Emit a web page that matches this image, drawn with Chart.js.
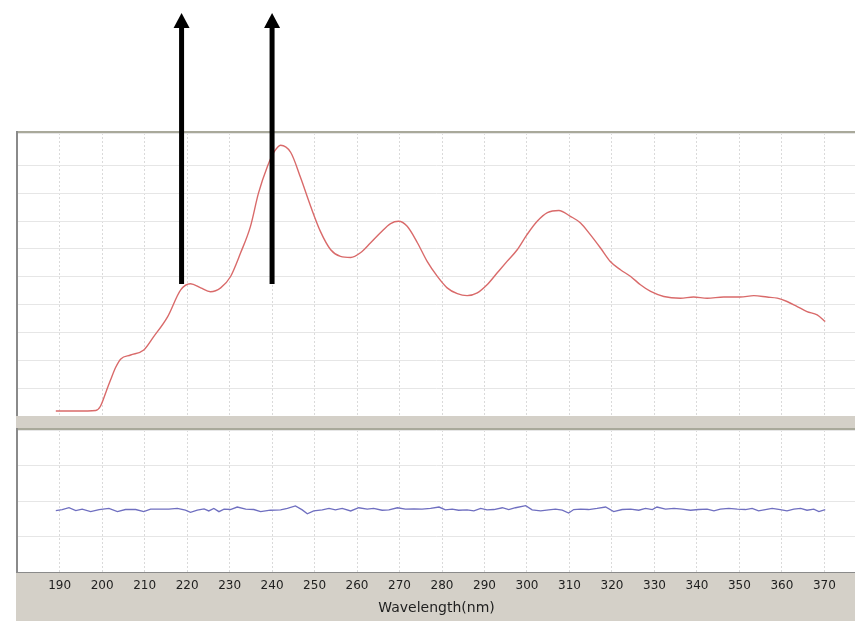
<!DOCTYPE html>
<html>
<head>
<meta charset="utf-8">
<script src="https://cdn.jsdelivr.net/npm/chart.js@4.4.0/dist/chart.umd.min.js"></script>
<style>
  html, body { margin: 0; padding: 0; background: #fff; width: 855px; height: 621px; overflow: hidden; }
  .band { position: absolute; left: 16px; top: 416px; width: 839px; height: 205px; background: #d4d0c8; }
  #topBox { position: absolute; left: 0; top: 0; width: 855px; height: 416px; }
  #botBox { position: absolute; left: 0; top: 428px; width: 855px; height: 193px; }
</style>
</head>
<body>
<div class="band"></div>
<div id="topBox"><canvas id="specChart"></canvas></div>
<div id="botBox"><canvas id="residChart"></canvas></div>
<script>
// spectrum (top panel)
const specWl = [189.1, 194.0, 198.5, 199.6, 201.0, 202.0, 203.2, 204.4, 206.7, 209.8, 212.1, 215.4, 218.5, 220.8,
  223.2, 225.5, 227.9, 230.2, 232.6, 234.9, 236.8, 238.9, 240.4, 242.0, 244.4, 246.7, 249.1, 251.4, 253.8,
  256.1, 258.5, 260.8, 263.2, 265.5, 267.9, 269.8, 271.8, 274.2, 276.5, 278.9, 281.2, 283.6, 285.9, 288.3,
  290.6, 293.0, 295.3, 297.7, 300.0, 302.4, 304.8, 307.5, 310.2, 312.6, 314.9, 317.3, 319.6, 322.0, 324.4,
  326.7, 329.1, 332.2, 336.1, 339.2, 342.4, 346.3, 350.2, 353.4, 356.5, 358.9, 361.2, 363.6, 365.9, 368.3, 370.2];
const specAbs = [0.018, 0.018, 0.020, 0.035, 0.09, 0.13, 0.175, 0.205, 0.219, 0.237, 0.284, 0.356, 0.453, 0.475,
  0.46, 0.446, 0.46, 0.50, 0.586, 0.68, 0.80, 0.896, 0.946, 0.972, 0.946, 0.856, 0.752, 0.662, 0.597,
  0.573, 0.569, 0.586, 0.622, 0.658, 0.691, 0.699, 0.681, 0.622, 0.555, 0.501, 0.46, 0.439, 0.432, 0.442,
  0.471, 0.514, 0.555, 0.597, 0.651, 0.699, 0.730, 0.738, 0.717, 0.693, 0.651, 0.603, 0.555, 0.525, 0.501,
  0.471, 0.447, 0.429, 0.423, 0.427, 0.423, 0.427, 0.427, 0.432, 0.427, 0.423, 0.411, 0.393, 0.375, 0.363, 0.339];

// residual (bottom panel)
const residWl = [189.1, 190.6, 192.2, 193.8, 195.3, 197.3, 199.3, 201.6, 203.6, 205.5, 207.9, 209.8, 211.4, 213.8,
  215.7, 217.7, 219.6, 220.8, 222.4, 224.0, 225.1, 226.3, 227.5, 228.7, 230.2, 231.8, 233.8, 235.7, 237.3,
  239.6, 242.0, 243.6, 245.5, 247.1, 248.3, 249.8, 251.8, 253.4, 254.9, 256.5, 258.5, 260.4, 262.4, 263.9,
  265.9, 267.5, 269.5, 271.4, 273.4, 275.3, 277.3, 279.3, 280.8, 282.4, 283.9, 285.9, 287.5, 289.1, 290.6,
  292.2, 294.2, 295.7, 297.3, 299.7, 301.2, 303.2, 305.1, 306.7, 308.3, 309.8, 311.0, 312.6, 314.5, 316.5,
  318.5, 320.4, 322.4, 324.4, 326.3, 327.9, 329.5, 330.6, 332.6, 334.6, 336.5, 338.5, 340.4, 342.4, 344.0,
  345.5, 347.5, 349.5, 351.4, 353.0, 354.5, 356.1, 357.7, 359.6, 361.2, 362.8, 364.4, 365.9, 367.5, 368.7, 370.2];
const residVal = [-0.27, -0.24, -0.19, -0.27, -0.23, -0.30, -0.24, -0.21, -0.30, -0.24, -0.24, -0.30, -0.23, -0.23,
  -0.23, -0.21, -0.26, -0.32, -0.26, -0.22, -0.28, -0.21, -0.30, -0.23, -0.24, -0.17, -0.23, -0.24, -0.30,
  -0.26, -0.25, -0.21, -0.14, -0.25, -0.36, -0.28, -0.25, -0.21, -0.25, -0.21, -0.28, -0.19, -0.23, -0.21,
  -0.26, -0.25, -0.19, -0.23, -0.22, -0.23, -0.21, -0.17, -0.25, -0.23, -0.26, -0.25, -0.28, -0.21, -0.25,
  -0.24, -0.19, -0.24, -0.19, -0.13, -0.25, -0.28, -0.25, -0.23, -0.26, -0.34, -0.24, -0.23, -0.24, -0.21,
  -0.17, -0.30, -0.24, -0.23, -0.26, -0.21, -0.24, -0.17, -0.23, -0.21, -0.23, -0.26, -0.24, -0.23, -0.28,
  -0.23, -0.21, -0.23, -0.24, -0.21, -0.28, -0.24, -0.21, -0.24, -0.28, -0.23, -0.21, -0.26, -0.23, -0.30, -0.24];

const tickWl = [190, 200, 210, 220, 230, 240, 250, 260, 270, 280, 290, 300, 310, 320, 330, 340, 350, 360, 370];
const arrowWl = [218.7, 240.0];
const arrowFrom = 0.474, arrowTo = 1.447;
const xMin = 180.2, xMax = 377.2;

const font = "'DejaVu Sans', sans-serif";

const xAxis = (showLabels) => ({
  type: 'linear',
  min: xMin,
  max: xMax,
  afterBuildTicks: (a) => { a.ticks = tickWl.map(v => ({ value: v })); },
  ticks: {
    display: showLabels,
    color: '#1e1e1e',
    padding: 2,
    font: { family: font, size: 12 },
    callback: (v) => v
  },
  grid: { color: '#dadada', drawTicks: showLabels, tickLength: 5, tickColor: 'rgba(0,0,0,0)' },
  border: { display: false, dash: [2, 2] },
  title: {
    display: showLabels,
    text: 'Wavelength(nm)',
    color: '#1e1e1e',
    font: { family: font, size: 14 },
    padding: { top: 0, bottom: 4 }
  },
  afterFit: (a) => { a.height = showLabels ? 49 : 0; }
});

const frame = {
  id: 'frame',
  beforeDraw(chart) {
    const { ctx, chartArea: ca } = chart;
    ctx.save();
    ctx.fillStyle = '#fff';
    ctx.fillRect(ca.left, ca.top, ca.right - ca.left, ca.bottom - ca.top);
    ctx.restore();
  },
  afterDraw(chart) {
    const { ctx, chartArea: ca } = chart;
    ctx.save();
    ctx.fillStyle = '#a9a99b';
    ctx.fillRect(ca.left - 2, ca.top - 2, ca.right - ca.left + 2, 2);
    ctx.fillStyle = '#8a8a8a';
    ctx.fillRect(ca.left - 2, ca.top - 2, 2, ca.bottom - ca.top + 2);
    ctx.restore();
  }
};

const arrows = {
  id: 'arrows',
  afterDraw(chart) {
    const { ctx, scales: { x, y } } = chart;
    ctx.save();
    ctx.fillStyle = '#000';
    ctx.strokeStyle = '#000';
    ctx.lineWidth = 5;
    arrowWl.forEach(w => {
      const px = x.getPixelForValue(w);
      const yb = y.getPixelForValue(arrowFrom);
      const yt = y.getPixelForValue(arrowTo);
      ctx.beginPath();
      ctx.moveTo(px, yb);
      ctx.lineTo(px, yt + 12);
      ctx.stroke();
      ctx.beginPath();
      ctx.moveTo(px, yt);
      ctx.lineTo(px - 8, yt + 15);
      ctx.lineTo(px + 8, yt + 15);
      ctx.closePath();
      ctx.fill();
    });
    ctx.restore();
  }
};

new Chart(document.getElementById('specChart'), {
  type: 'line',
  data: {
    datasets: [{
      data: specWl.map((w, i) => ({ x: w, y: specAbs[i] })),
      borderColor: '#d96a6a',
      borderWidth: 1.4,
      pointRadius: 0,
      cubicInterpolationMode: 'monotone',
      fill: false
    }]
  },
  options: {
    responsive: true,
    maintainAspectRatio: false,
    animation: false,
    layout: { padding: { left: 18, top: 133, right: 0, bottom: 0 } },
    plugins: { legend: { display: false }, tooltip: { enabled: false } },
    scales: {
      x: xAxis(false),
      y: {
        min: 0,
        max: 1.016,
        ticks: { display: false, stepSize: 0.1 },
        grid: { color: '#e6e6e6', drawTicks: false },
        border: { display: false },
        afterFit: (a) => { a.width = 0; }
      }
    }
  },
  plugins: [frame, arrows]
});

new Chart(document.getElementById('residChart'), {
  type: 'line',
  data: {
    datasets: [{
      data: residWl.map((w, i) => ({ x: w, y: residVal[i] })),
      borderColor: '#6f6fc0',
      borderWidth: 1.3,
      pointRadius: 0,
      tension: 0,
      fill: false
    }]
  },
  options: {
    responsive: true,
    maintainAspectRatio: false,
    animation: false,
    layout: { padding: { left: 18, top: 2, right: 0, bottom: 0 } },
    plugins: { legend: { display: false }, tooltip: { enabled: false } },
    scales: {
      x: xAxis(true),
      y: {
        min: -2,
        max: 2,
        ticks: { display: false, stepSize: 1 },
        grid: { color: '#e6e6e6', drawTicks: false },
        border: { display: false },
        afterFit: (a) => { a.width = 0; }
      }
    }
  },
  plugins: [frame, {
    id: 'baseLine',
    afterDraw(chart) {
      const { ctx, chartArea: ca } = chart;
      ctx.save();
      ctx.fillStyle = '#8a8a8a';
      ctx.fillRect(ca.left - 2, ca.bottom, ca.right - ca.left + 2, 1);
      ctx.restore();
    }
  }]
});
</script>
</body>
</html>
